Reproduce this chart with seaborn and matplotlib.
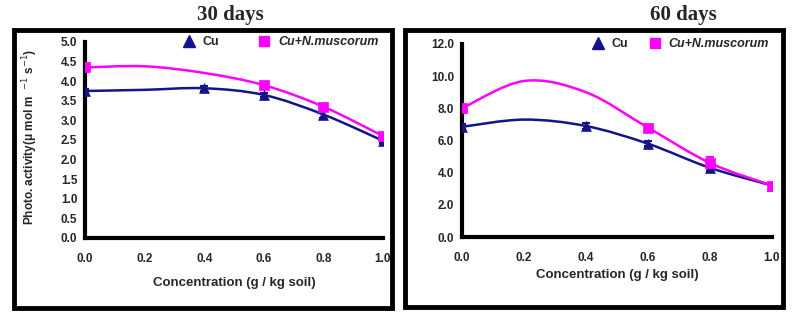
import numpy as np
import pandas as pd
import matplotlib
matplotlib.use("Agg")
import matplotlib.pyplot as plt
import seaborn as sns
from matplotlib.path import Path
from matplotlib.patches import PathPatch, Rectangle
from matplotlib.lines import Line2D

# ---- data ----
conc = [0.0, 0.2, 0.4, 0.6, 0.8, 1.0]
cu_30 = [3.75, 3.78, 3.82, 3.65, 3.15, 2.48]
cun_30 = [4.35, 4.38, 4.21, 3.90, 3.35, 2.60]
cu_60 = [6.85, 7.30, 6.90, 5.80, 4.30, 3.20]
cun_60 = [8.00, 9.70, 9.00, 6.80, 4.60, 3.20]
err_cu_30 = [0.05, 0.0, 0.06, 0.06, 0.08, 0.06]
err_cun_30 = [0.08, 0.0, 0.0, 0.08, 0.08, 0.06]
err_cu_60 = [0.15, 0.0, 0.2, 0.15, 0.2, 0.1]
err_cun_60 = [0.15, 0.0, 0.0, 0.15, 0.35, 0.1]
# which points carry a visible marker
mark_cu = [0, 2, 3, 4, 5]
mark_cun = [0, 3, 4, 5]
series_names = ["Cu", "Cu+N.muscorum"]
titles = ["30 days", "60 days"]
yticks_30 = [0.0, 0.5, 1.0, 1.5, 2.0, 2.5, 3.0, 3.5, 4.0, 4.5, 5.0]
yticks_60 = [0.0, 2.0, 4.0, 6.0, 8.0, 10.0, 12.0]
xticks = [0.0, 0.2, 0.4, 0.6, 0.8, 1.0]

CU_COL = "#14148a"
CUN_COL = "#ff00ff"

sns.set_style("white")
plt.rcParams['font.family'] = ['Liberation Sans', 'DejaVu Sans']

W, H = 793, 317
fig = plt.figure(figsize=(W / 100, H / 100), dpi=100)


def smooth_path(xs, ys):
    """Excel-style smoothed line as cubic Bezier path through the data points."""
    pts = np.column_stack([xs, ys]).astype(float)
    n = len(pts)
    verts = [tuple(pts[0])]
    codes = [Path.MOVETO]
    for i in range(n - 1):
        p_prev = pts[max(i - 1, 0)]
        p0 = pts[i]
        p1 = pts[i + 1]
        p_next = pts[min(i + 2, n - 1)]
        c1 = p0 + (p1 - p_prev) / 6.0
        c2 = p1 - (p_next - p0) / 6.0
        verts += [tuple(c1), tuple(c2), tuple(p1)]
        codes += [Path.CURVE4] * 3
    return Path(verts, codes)


def axes_rect(x0, x1, ytop, ybot):
    return [x0 / W, 1 - ybot / H, (x1 - x0) / W, (ybot - ytop) / H]


panels = [
    dict(rect=axes_rect(85, 383, 42, 238), cu=cu_30, cun=cun_30, ecu=err_cu_30,
         ecun=err_cun_30, yt=yticks_30, ylim=5.0, title=titles[0], tx=230,
         frame=(14, 30, 392, 308), xl_y=283, ylabel=True, leg_x=0.985, colsp=2.6),
    dict(rect=axes_rect(462, 772, 44, 237), cu=cu_60, cun=cun_60, ecu=err_cu_60,
         ecun=err_cun_60, yt=yticks_60, ylim=12.0, title=titles[1], tx=683,
         frame=(405, 30, 783, 307), xl_y=275, ylabel=False, leg_x=0.99, colsp=1.1),
]

for p in panels:
    fx0, fy0, fx1, fy1 = p["frame"]
    fig.patches.append(Rectangle((fx0 / W, 1 - fy1 / H), (fx1 - fx0) / W, (fy1 - fy0) / H,
                                 transform=fig.transFigure, fill=False,
                                 edgecolor="black", linewidth=3.5, zorder=0))
    fig.text(p["tx"] / W, 1 - 15 / H, p["title"], ha="center", va="center",
             fontsize=15, fontweight="bold", family=["Liberation Serif"])

    ax = fig.add_axes(p["rect"])
    ax.set_facecolor("none")
    for name, ys, errs, col, mk, idx in [
        ("Cu", p["cu"], p["ecu"], CU_COL, "^", mark_cu),
        ("Cu+N.muscorum", p["cun"], p["ecun"], CUN_COL, "s", mark_cun),
    ]:
        ax.add_patch(PathPatch(smooth_path(conc, ys), fill=False, edgecolor=col,
                               linewidth=1.8, zorder=3))
        df = pd.DataFrame({"x": [conc[i] for i in idx], "y": [ys[i] for i in idx]})
        ax.errorbar(df["x"], df["y"], yerr=[errs[i] for i in idx], fmt="none",
                    ecolor=col, elinewidth=1.2, capsize=3, capthick=1.5, zorder=3)
        sns.scatterplot(data=df, x="x", y="y", ax=ax, marker=mk, color=col,
                        s=50, edgecolor=col, linewidth=0.5, zorder=4, legend=False)

    ax.set_xlim(0, 1.0)
    ax.set_ylim(0, p["ylim"])
    ax.set_xticks(xticks)
    ax.set_yticks(p["yt"])
    ax.set_xticklabels([f"{v:.1f}" for v in xticks], fontsize=8.5, fontweight="bold")
    ax.set_yticklabels([f"{v:.1f}" for v in p["yt"]], fontsize=8.5, fontweight="bold")
    ax.tick_params(axis="both", direction="out", length=2.5, width=1.5, pad=3)
    ax.tick_params(axis="x", pad=8)
    for s in ["top", "right"]:
        ax.spines[s].set_visible(False)
    for s in ["left", "bottom"]:
        ax.spines[s].set_linewidth(3.0)
        ax.spines[s].set_color("black")
    ax.set_xlabel("")
    ax.set_ylabel("")
    cx = (p["rect"][0] + p["rect"][2] / 2)
    fig.text(cx, 1 - p["xl_y"] / H, "Concentration (g / kg soil)", ha="center",
             va="center", fontsize=9.5, fontweight="bold")
    if p["ylabel"]:
        fig.text(30 / W, 1 - 137 / H, "Photo. activity(\u03bc mol m  $^{-1}$ s$^{-1}$)",
                 rotation=90, ha="center", va="center", fontsize=8.5, fontweight="bold")

    handles = [Line2D([], [], marker="^", color=CU_COL, linestyle="none", markersize=8),
               Line2D([], [], marker="s", color=CUN_COL, linestyle="none", markersize=7)]
    leg = ax.legend(handles, series_names, loc="center right",
                    bbox_to_anchor=(p["leg_x"], 1.0), ncol=2, frameon=False,
                    handletextpad=0.1, columnspacing=p["colsp"], borderaxespad=0,
                    borderpad=0, prop=dict(size=9, weight="bold"))
    leg.get_texts()[1].set_style("italic")

fig.savefig("out.png", dpi=100)
